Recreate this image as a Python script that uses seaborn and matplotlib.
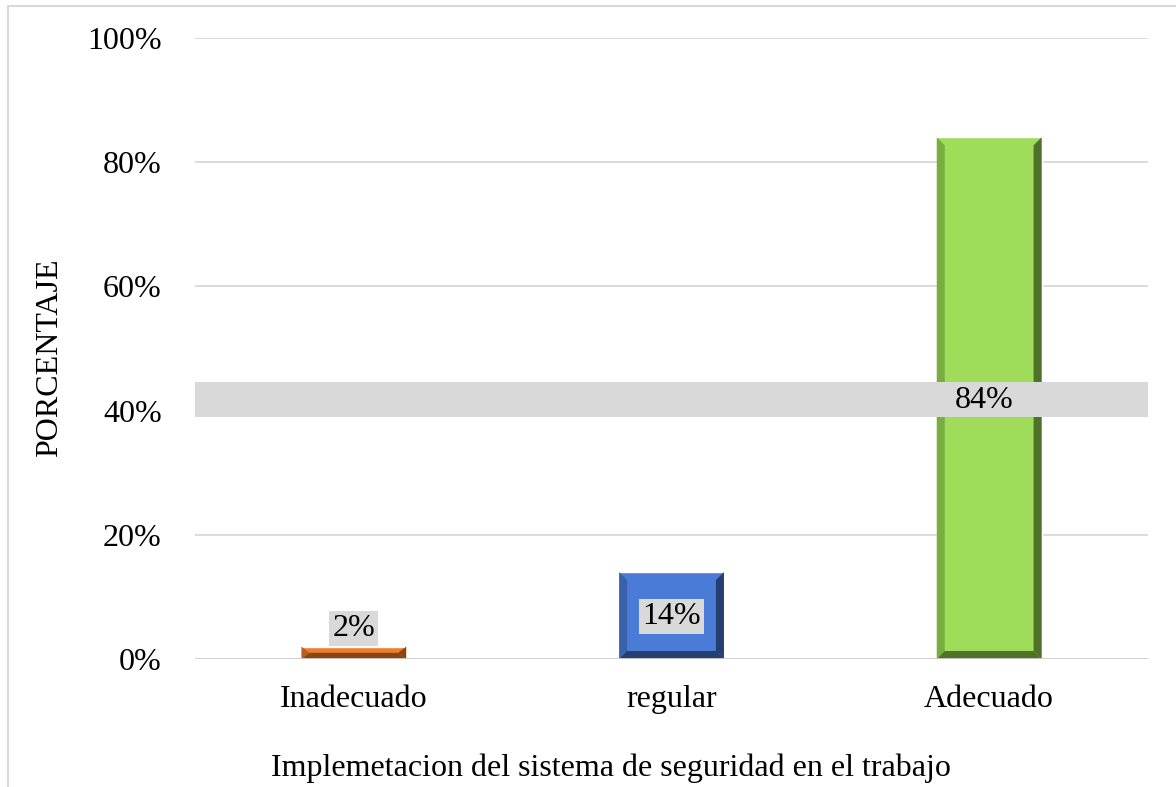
import matplotlib
matplotlib.use("Agg")
import matplotlib.pyplot as plt
import seaborn as sns
import pandas as pd
from matplotlib.patches import Polygon, Rectangle
from matplotlib.lines import Line2D

categories = ["Inadecuado", "regular", "Adecuado"]
values = [0.02, 0.14, 0.84]
labels = ["2%", "14%", "84%"]
colors = ["#ED7D31", "#4A7BD6", "#9EDC5A"]
dark = ["#8A4512", "#253F70", "#4E7228"]
mid = ["#B85F20", "#3A62AA", "#78AE3E"]
yticks = [0, 0.2, 0.4, 0.6, 0.8, 1.0]
ytick_labels = ["0%", "20%", "40%", "60%", "80%", "100%"]
xlabel = "Implemetacion del sistema de seguridad en el trabajo"
ylabel = "PORCENTAJE"

sns.set_theme(style="white")
plt.rcParams["font.family"] = ["Liberation Serif", "DejaVu Serif"]
plt.rcParams["text.color"] = "black"
plt.rcParams["axes.labelcolor"] = "black"
plt.rcParams["xtick.color"] = "black"
plt.rcParams["ytick.color"] = "black"

FS = 23

df = pd.DataFrame({"cat": categories, "val": values})
fig = plt.figure(figsize=(11.76, 7.87), dpi=100)
ax = fig.add_axes([195/1176, 1-659/787, (1148-195)/1176, (659-38)/787])

sns.barplot(data=df, x="cat", y="val", hue="cat", palette=colors, width=0.33,
            legend=False, ax=ax, saturation=1, zorder=3)

ax.set_ylim(0, 1.0)
ax.set_xlim(-0.5, 2.5)
ax.set_yticks(yticks)
ax.set_yticklabels(ytick_labels, fontsize=FS)
ax.tick_params(axis="x", labelsize=FS, pad=19, length=0, colors="black")
ax.tick_params(axis="y", pad=24, length=0, colors="black")
for s in ax.spines.values():
    s.set_visible(False)
ax.grid(axis="y", color="#D9D9D9", linewidth=1.3, zorder=0)
ax.set_axisbelow(True)
ax.axhline(0, color="#D0D0D0", linewidth=2, zorder=4)
ax.set_xlabel("")
ax.set_ylabel("")
fig.text(611/1176, 1-768/787, xlabel, fontsize=FS, ha="center", va="center", color="black")
fig.text(50/1176, 1-358/787, ylabel, fontsize=FS, ha="center", va="center", rotation=90,
         color="black")

# bevels
px = 1.0 / ((1148-195)/3)  # data units per pixel x
py = 1.0 / (659-38)          # data units per pixel y
bev = 8
for i, p in enumerate(ax.patches[:len(values)]):
    x0, w, h = p.get_x(), p.get_width(), p.get_height()
    x1 = x0 + w
    bx, by = bev*px, bev*py
    by = min(by, h/2)
    ax.add_patch(Polygon([(x0, 0), (x0, h), (x0+bx, h-by), (x0+bx, by)], closed=True,
                         facecolor=mid[i], edgecolor="none", zorder=3.5))
    ax.add_patch(Polygon([(x1, 0), (x1, h), (x1-bx, h-by), (x1-bx, by)], closed=True,
                         facecolor=dark[i], edgecolor="none", zorder=3.5))
    ax.add_patch(Polygon([(x0, 0), (x1, 0), (x1-bx, by), (x0+bx, by)], closed=True,
                         facecolor=dark[i], edgecolor="none", zorder=3.5))

# labels
for i, (v, lab) in enumerate(zip(values, labels)):
    if v < 0.05:
        ax.text(i, v + 0.029, lab, ha="center", va="center", fontsize=FS, zorder=6,
                bbox=dict(boxstyle="square,pad=0.1", facecolor="#D9D9D9", edgecolor="none"))
    elif v > 0.5:
        ax.add_patch(Rectangle((-0.5, v/2 - 0.031), 3.0, 0.057, facecolor="#D9D9D9",
                               edgecolor="none", zorder=5))
        ax.text(i - 0.015, v/2 - 0.004, lab, ha="center", va="center", fontsize=FS, zorder=6)
    else:
        ax.text(i, v/2 - 0.002, lab, ha="center", va="center", fontsize=FS, zorder=6,
                bbox=dict(boxstyle="square,pad=0.1", facecolor="#D9D9D9", edgecolor="none"))

# chart border
fig.add_artist(Line2D([8/1176, 1.0], [1-6/787, 1-6/787], color="#D9D9D9", linewidth=1.5,
                      transform=fig.transFigure))
fig.add_artist(Line2D([8/1176, 8/1176], [0, 1-6/787], color="#D9D9D9", linewidth=1.5,
                      transform=fig.transFigure))

fig.savefig("out.png", dpi=100)
